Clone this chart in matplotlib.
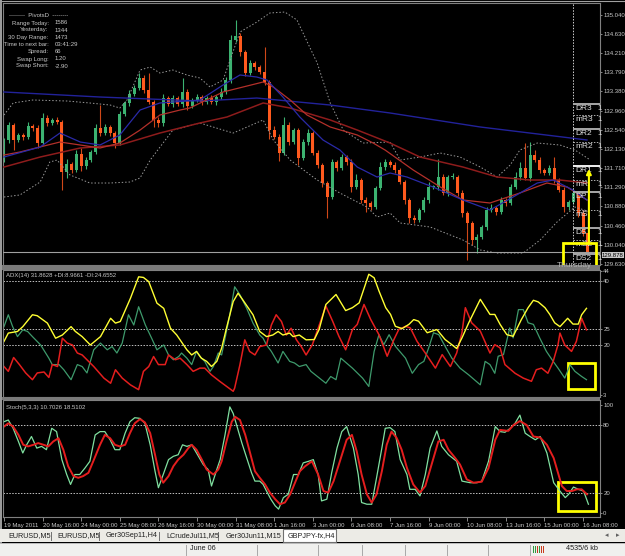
import matplotlib
matplotlib.use('Agg')
import matplotlib.pyplot as plt
import matplotlib.transforms as mtransforms
from matplotlib.patches import Rectangle
from matplotlib.lines import Line2D
from matplotlib import font_manager

W, H = 625, 556

# ---------------- data (GBPJPY H4) ----------------
first_open = 131.885
closes = [
    132.320, 132.645, 132.320, 132.428, 132.385, 132.624, 132.580, 132.254, 132.797, 132.689,
    132.754, 132.710, 131.625, 131.799, 131.668, 132.016, 131.755, 131.885, 132.059, 132.580,
    132.471, 132.602, 132.471, 132.254, 132.884, 133.123, 133.318, 133.448, 133.666, 133.405,
    133.145, 132.754, 132.689, 133.231, 133.101, 133.231, 133.101, 133.362, 133.058, 133.188,
    133.253, 133.145, 133.231, 133.145, 133.253, 133.362, 133.622, 134.491, 134.577, 134.230,
    133.774, 133.991, 133.904, 133.796, 133.579, 132.536, 132.385, 132.037, 132.645, 132.276,
    132.536, 131.929, 132.276, 132.471, 132.037, 131.777, 131.386, 131.082, 131.842, 131.712,
    131.950, 131.842, 131.299, 131.451, 131.017, 130.952, 130.865, 131.277, 131.733, 131.842,
    131.777, 131.668, 131.408, 131.017, 130.626, 130.583, 130.800, 131.017, 131.299, 131.299,
    131.516, 131.169, 131.516, 131.516, 131.169, 130.735, 130.518, 130.149, 130.214, 130.431,
    130.800, 130.843, 130.757, 131.017, 130.952, 131.299, 131.516, 131.712, 131.495, 131.994,
    131.885, 131.668, 131.603, 131.712, 131.451, 131.234, 130.865, 130.974, 131.169, 130.735,
    130.301, 129.878]
wick_up = [
    0.05, 0.06, 0.04, 0.05, 0.04, 0.08, 0.05, 0.06, 0.10, 0.06,
    0.05, 0.06, 0.04, 0.10, 0.05, 0.08, 0.12, 0.06, 0.05, 0.08,
    0.50, 0.06, 0.05, 0.04, 0.06, 0.05, 0.08, 0.06, 0.10, 0.06,
    0.36, 0.05, 0.06, 0.08, 0.05, 0.06, 0.04, 0.30, 0.06, 0.05,
    0.06, 0.05, 0.04, 0.06, 0.05, 0.08, 0.06, 0.10, 0.35, 0.06,
    0.05, 0.06, 0.05, 0.05, 0.54, 0.05, 0.08, 0.06, 0.18, 0.06,
    0.05, 0.04, 0.06, 0.08, 0.05, 0.06, 0.05, 0.04, 0.06, 0.05,
    0.06, 0.05, 0.06, 0.12, 0.05, 0.06, 0.04, 0.05, 0.10, 0.06,
    0.05, 0.06, 0.05, 0.04, 0.05, 0.06, 0.05, 0.06, 0.10, 0.05,
    0.40, 0.06, 0.05, 0.08, 0.05, 0.06, 0.05, 0.04, 0.06, 0.05,
    0.06, 0.08, 0.05, 0.06, 0.05, 0.06, 0.10, 0.12, 0.54, 0.28,
    0.10, 0.06, 0.05, 0.06, 0.24, 0.05, 0.06, 0.05, 0.06, 0.05,
    0.06, 0.05]
wick_dn = [
    0.05, 0.06, 0.22, 0.05, 0.06, 0.04, 0.06, 0.10, 0.05, 0.06,
    0.05, 0.04, 0.39, 0.12, 0.06, 0.05, 0.10, 0.06, 0.05, 0.04,
    0.06, 0.05, 0.06, 0.10, 0.05, 0.04, 0.06, 0.05, 0.04, 0.06,
    0.05, 0.15, 0.08, 0.06, 0.05, 0.06, 0.05, 0.06, 0.08, 0.05,
    0.04, 0.06, 0.05, 0.04, 0.06, 0.05, 0.04, 0.06, 0.05, 0.08,
    0.06, 0.05, 0.06, 0.05, 0.06, 0.20, 0.05, 0.18, 0.05, 0.06,
    0.04, 0.15, 0.05, 0.06, 0.05, 0.06, 0.08, 0.46, 0.05, 0.06,
    0.05, 0.06, 0.10, 0.05, 0.06, 0.20, 0.06, 0.05, 0.04, 0.06,
    0.05, 0.06, 0.05, 0.08, 0.10, 0.06, 0.05, 0.04, 0.06, 0.05,
    0.06, 0.05, 0.06, 0.05, 0.06, 0.08, 0.80, 0.10, 0.28, 0.05,
    0.06, 0.05, 0.06, 0.05, 0.06, 0.05, 0.04, 0.06, 0.05, 0.06,
    0.05, 0.06, 0.05, 0.04, 0.06, 0.05, 0.10, 0.06, 0.05, 0.08,
    0.06, 0.04]

# moving averages / bands, sampled at bar positions
ma_slow_bar = [0, 19.9, 40.6, 52.4, 67.6, 80.0, 98.7, 120.8]
ma_slow_val = [133.362, 133.253, 133.166, 133.231, 133.079, 132.906, 132.602, 132.320]
ma_fast_bar = [0, 7.5, 11.6, 15.8, 19.9, 24.0, 28.2, 32.3, 40.6, 45.4, 48.9, 52.4, 54.5, 57.8, 61.3,
               66.1, 69.6, 73.2, 77.3, 80.0, 83.5, 88.9, 95.1, 100.7, 105.5, 110.5, 113.8, 117.9, 120.8]
ma_fast_val = [131.950, 132.168, 132.471, 132.276, 132.211, 132.428, 132.971, 133.123, 133.188, 133.514,
               133.731, 133.687, 133.622, 133.253, 132.819, 132.320, 132.103, 131.733, 131.516, 131.603,
               131.516, 131.299, 131.017, 130.800, 131.082, 131.386, 131.451, 131.234, 131.017]
ma_red_a_bar = [0, 3.3, 11.6, 15.8, 19.9, 24.0, 28.2, 32.3, 36.5, 38.5, 45.4, 53.7, 55.8, 59.3, 62.8,
                67.6, 73.2, 76.5, 79.0, 84.8, 90.4, 95.1, 100.7, 106.9, 112.5, 116.7, 120.8]
ma_red_a_val = [131.994, 132.059, 132.276, 132.211, 132.146, 132.254, 132.536, 132.862, 132.971, 133.014,
                133.362, 133.579, 133.470, 133.188, 132.862, 132.602, 132.428, 132.254, 132.100, 131.668,
                131.300, 131.017, 130.952, 131.169, 131.386, 131.299, 131.017]
ma_red_b_bar = [0, 7.5, 15.8, 24.0, 32.3, 40.6, 46.2, 53.7, 59.3, 67.6, 73.2, 80.0, 86.2, 95.1, 102.2,
                109.0, 115.2, 120.8]
ma_red_b_val = [131.733, 131.950, 132.146, 132.211, 132.471, 132.689, 132.819, 133.123, 133.014, 132.754,
                132.536, 132.254, 131.950, 131.733, 131.516, 131.451, 131.451, 131.386]
band_up_bar = [0, 1.9, 6.0, 13.1, 17.8, 22.0, 24.0, 25.5, 28.2, 30.3, 32.3, 35.0, 37.9, 40.6, 42.7,
               45.4, 48.9, 52.4, 55.1, 58.2, 60.7, 64.9, 67.6, 70.3, 74.4, 80.0, 82.1, 86.2, 90.4,
               94.5, 98.7, 102.2, 104.9, 106.9, 110.5, 115.2, 118.3, 121.5]
band_up_val = [132.862, 133.123, 133.188, 133.166, 133.123, 133.079, 133.014, 133.188, 133.839, 133.904,
               133.774, 133.839, 133.731, 133.666, 133.470, 133.622, 134.664, 134.881, 135.077, 135.098,
               134.925, 133.991, 133.123, 132.536, 132.254, 132.276, 131.885, 131.950, 132.037, 131.950,
               131.733, 131.516, 131.777, 132.103, 132.254, 132.211, 132.103, 131.885]
band_dn_bar = [0, 3.3, 7.5, 9.5, 11.0, 13.7, 17.8, 22.0, 26.1, 28.2, 30.3, 35.0, 40.6, 45.4, 47.5,
               53.7, 55.8, 59.3, 64.9, 69.6, 75.2, 77.3, 80.0, 82.1, 88.3, 95.1, 98.7, 102.2, 107.6,
               111.1, 114.6, 118.3, 121.5]
band_dn_val = [131.082, 131.126, 131.408, 131.842, 131.885, 131.560, 131.386, 131.386, 131.408, 131.495,
               131.885, 132.536, 132.689, 132.536, 132.471, 132.754, 132.320, 131.885, 131.451, 131.169,
               130.865, 130.648, 130.735, 130.518, 130.431, 130.149, 129.932, 129.866, 129.866, 130.149,
               130.540, 130.865, 130.757]

price_ticks = [135.040, 134.630, 134.210, 133.790, 133.380, 132.960, 132.540, 132.130,
               131.710, 131.290, 130.880, 130.460, 130.040, 129.630]
bid_price = 129.878

pivot_names = ['DR3', 'mR3', 'DR2', 'mR2', 'DR1', 'mR', 'DP', 'mS', 'DS', 'mS2', 'DS2']
pivot_levels = [133.10, 132.86, 132.56, 132.28, 131.76, 131.45, 131.19, 130.80, 130.41, 130.15, 129.85]
day_start_bar = 118

info_keys = ['Range Today:', 'Yesterday:', '30 Day Range:', 'Time to next bar:', 'Spread:', 'Swap Long:', 'Swap Short:']
info_vals = ['1586', '1344', '1473', '03:41:29', '66', '1.20', '-2.90']

# ADX(14)
adx_bar = [0, 0.9, 2.8, 3.9, 5.9, 6.9, 9.0, 10.7, 12.1, 13.9, 14.8, 16.2, 17.9, 20.0, 22.1, 23.1, 24.1,
           26.2, 27.9, 28.9, 30.0, 31.7, 33.1, 34.5, 35.8, 37.9, 38.9, 39.9, 40.9, 42.0, 43.0, 44.1,
           45.1, 46.1, 47.5, 48.5, 49.5, 51.6, 53.0, 54.4, 55.7, 56.8, 57.8, 59.2, 59.9, 61.2, 62.6,
           64.3, 65.3, 66.7, 68.8, 70.8, 72.2, 73.6, 75.6, 76.7, 77.7, 79.1, 80.1, 81.1, 82.5, 83.9,
           84.9, 85.9, 87.7, 88.7, 89.7, 91.4, 92.8, 93.8, 94.9, 96.3, 98.7, 100.7, 101.7, 102.8,
           104.2, 105.5, 107.2, 108.6, 109.7, 110.7, 112.1, 113.1, 114.1, 115.2, 116.8, 117.9, 119.0,
           119.7, 120.7]
adx_val = [21.2, 23.8, 24.3, 25.8, 29.5, 29.2, 26.9, 22.2, 23.2, 25.8, 24.3, 22.7, 20.1, 22.7, 28.4,
           26.9, 27.4, 34.6, 41.3, 41.1, 39.8, 33.1, 31.5, 25.3, 23.2, 18.6, 17.0, 18.1, 16.0, 15.0,
           13.4, 15.0, 19.1, 25.3, 33.6, 36.2, 34.1, 29.5, 24.3, 22.7, 23.2, 24.3, 23.2, 23.8, 22.7,
           23.2, 21.7, 21.8, 24.9, 32.7, 35.8, 30.8, 31.7, 33.2, 42.1, 41.0, 36.9, 31.7, 29.6, 25.9,
           25.2, 26.5, 28.0, 27.5, 23.9, 24.4, 24.9, 21.8, 20.2, 19.0, 22.3, 27.0, 34.3, 29.6, 29.6,
           26.5, 23.3, 22.8, 28.0, 31.7, 34.0, 33.5, 31.7, 29.6, 27.0, 25.8, 28.4, 26.6, 26.6, 29.5, 31.5]
pdi_bar = [0, 0.9, 1.8, 2.8, 3.9, 4.9, 5.9, 7.6, 9.3, 10.0, 11.4, 12.4, 13.9, 15.2, 16.2, 17.2, 18.6,
           20.0, 21.4, 22.4, 23.4, 24.5, 25.8, 26.9, 27.9, 29.3, 30.6, 31.7, 33.1, 34.1, 35.1, 36.2,
           36.8, 37.9, 38.9, 39.9, 40.6, 41.6, 42.7, 43.4, 44.4, 45.1, 46.1, 46.8, 47.8, 48.9, 50.3,
           51.6, 53.0, 53.7, 54.4, 55.4, 56.8, 57.8, 59.2, 60.2, 61.2, 62.6, 63.6, 66.7, 67.7, 68.8,
           69.8, 72.2, 74.3, 75.6, 76.7, 77.7, 78.7, 79.8, 81.1, 83.2, 84.6, 85.9, 87.0, 88.0, 89.0,
           90.1, 91.4, 92.8, 94.5, 96.3, 98.7, 99.7, 100.7, 101.7, 102.4, 103.5, 104.8, 105.5, 106.6,
           107.6, 108.6, 109.7, 111.0, 112.4, 113.8, 114.8, 116.2, 117.3, 118.3, 119.7, 120.7]
pdi_val = [25.8, 29.5, 25.8, 22.7, 24.8, 24.3, 22.7, 20.1, 16.0, 14.0, 14.0, 12.4, 9.3, 14.0, 13.4,
           11.4, 18.6, 20.7, 18.6, 19.6, 17.6, 20.7, 29.5, 26.3, 32.0, 26.3, 22.2, 18.6, 20.1, 17.0,
           15.5, 16.5, 17.6, 16.0, 14.0, 18.1, 16.5, 15.0, 11.9, 13.4, 17.6, 17.0, 24.3, 29.5, 38.2,
           35.7, 31.5, 26.9, 23.2, 22.2, 20.1, 18.1, 14.5, 18.1, 15.0, 14.5, 13.4, 14.0, 11.9, 8.2,
           10.3, 9.3, 16.0, 12.9, 9.8, 7.2, 18.1, 23.3, 20.2, 23.3, 19.7, 16.0, 11.3, 14.0, 15.0, 19.2,
           23.9, 23.3, 19.7, 16.0, 12.9, 10.8, 7.7, 15.0, 14.0, 11.3, 16.6, 17.1, 25.4, 22.3, 31.1,
           31.1, 27.0, 26.5, 22.3, 18.1, 15.0, 12.9, 9.8, 13.9, 11.9, 10.3, 9.3]
mdi_bar = [0, 0.9, 2.0, 3.2, 4.5, 5.9, 6.9, 8.3, 9.3, 10.0, 11.1, 12.1, 13.1, 14.2, 15.2, 16.2, 17.2,
           18.6, 20.7, 22.1, 23.1, 24.5, 26.2, 27.9, 28.9, 30.0, 31.0, 32.0, 33.4, 34.1, 35.5, 36.5,
           37.9, 39.2, 40.6, 41.6, 43.0, 44.7, 47.5, 47.8, 48.9, 49.9, 50.9, 52.0, 53.0, 54.4, 55.4,
           56.4, 57.5, 58.5, 59.5, 60.6, 61.6, 62.6, 63.9, 65.0, 66.7, 68.1, 69.4, 70.8, 72.2, 73.2,
           74.6, 76.0, 77.7, 79.4, 80.8, 81.8, 83.2, 84.2, 85.6, 87.3, 89.4, 90.8, 92.5, 93.8, 94.9,
           95.6, 96.9, 98.7, 100.7, 101.7, 102.8, 103.8, 105.9, 107.6, 109.3, 110.3, 111.4, 112.7,
           113.8, 114.8, 115.2, 116.2, 117.6, 118.6, 119.7, 120.7]
mdi_val = [13.4, 11.9, 16.2, 14.0, 11.4, 9.3, 11.4, 11.7, 10.0, 14.0, 13.4, 22.2, 20.7, 20.1, 17.6,
           17.0, 15.5, 13.4, 9.8, 8.2, 12.4, 9.8, 7.7, 6.2, 11.9, 13.4, 16.5, 14.0, 14.0, 17.0, 15.5,
           16.0, 14.0, 11.9, 12.9, 12.9, 10.8, 8.8, 5.7, 6.7, 14.0, 21.7, 18.1, 17.0, 19.6, 20.1, 26.3,
           29.5, 27.4, 23.2, 25.3, 21.7, 19.6, 17.0, 20.2, 24.9, 32.2, 27.5, 22.8, 18.6, 24.9, 26.5,
           32.7, 28.0, 23.3, 16.6, 21.8, 24.9, 25.9, 25.4, 21.2, 17.6, 12.9, 17.1, 13.4, 17.6, 23.9,
           31.7, 27.0, 24.4, 17.6, 20.2, 19.2, 14.0, 11.3, 9.8, 8.8, 12.4, 12.9, 11.3, 15.0, 20.2, 23.8,
           20.1, 18.1, 21.2, 28.4, 24.8]

# Stochastic(5,3,3)
k_bar = [0, 0.9, 1.9, 3.0, 3.9, 4.7, 5.7, 6.8, 7.8, 8.8, 9.9, 10.9, 12.0, 13.0, 13.8, 14.7, 15.7, 16.8,
         17.8, 18.9, 19.9, 20.9, 22.0, 23.0, 24.0, 25.1, 26.1, 27.1, 28.2, 29.2, 30.3, 31.3, 32.0, 33.0,
         34.1, 35.1, 36.1, 37.0, 37.9, 38.9, 39.9, 41.3, 42.3, 43.0, 44.1, 44.8, 45.8, 46.8, 47.5, 48.2,
         49.3, 50.3, 51.3, 52.0, 53.0, 53.7, 54.4, 55.3, 56.2, 56.9, 57.9, 58.9, 60.0, 61.0, 62.0, 63.1,
         64.1, 65.1, 65.8, 66.9, 67.9, 69.0, 70.0, 71.0, 72.4, 73.4, 74.1, 75.2, 76.2, 77.2, 78.3, 79.0,
         80.0, 81.0, 82.1, 83.5, 84.1, 85.2, 86.2, 87.3, 88.3, 89.7, 90.7, 92.1, 93.8, 94.9, 96.6, 98.0,
         99.0, 100.4, 101.8, 102.8, 103.8, 104.9, 105.9, 106.9, 108.0, 109.0, 110.1, 111.1, 112.5,
         113.9, 115.2, 116.3, 117.0, 118.0, 119.0, 120.1, 121.1]
k_val = [82.9, 84.4, 77.1, 65.5, 55.4, 62.6, 69.9, 59.7, 61.2, 58.3, 77.1, 74.2, 49.6, 36.5, 27.8, 36.5,
         36.5, 42.3, 48.1, 71.3, 74.2, 74.2, 67.0, 58.3, 58.3, 72.8, 82.9, 86.4, 85.8, 81.5, 62.6, 39.4,
         24.9, 36.5, 49.6, 52.5, 53.9, 62.6, 61.2, 62.6, 55.4, 45.2, 40.9, 26.4, 40.9, 49.6, 71.3, 95.9,
         90.1, 80.0, 64.1, 51.0, 38.0, 30.7, 30.7, 27.8, 22.0, 14.8, 9.0, 6.1, 16.2, 19.1, 36.5, 36.5,
         46.7, 48.1, 49.6, 36.5, 13.3, 14.8, 38.0, 59.7, 74.2, 78.6, 59.7, 36.5, 11.9, 10.4, 10.4, 33.6,
         59.7, 77.1, 77.7, 74.2, 49.6, 36.5, 23.5, 23.5, 17.7, 36.5, 59.7, 74.8, 61.2, 53.9, 48.1, 30.7,
         29.3, 29.3, 30.7, 48.1, 78.6, 74.2, 73.6, 77.1, 81.5, 88.7, 72.8, 69.9, 67.0, 69.9, 55.4, 29.3,
         22.0, 16.2, 19.1, 25.5, 23.5, 22.0, 10.4]
d_bar = [0, 0.9, 1.9, 3.0, 4.0, 5.0, 6.1, 7.1, 8.2, 9.2, 10.2, 11.3, 12.3, 13.3, 14.4, 15.4, 16.4, 17.5,
         18.5, 19.9, 20.9, 22.0, 23.0, 24.0, 25.1, 26.1, 27.1, 28.2, 29.2, 30.3, 31.3, 32.2, 33.0, 34.1,
         35.1, 36.1, 37.2, 38.2, 38.9, 39.9, 41.0, 42.0, 43.4, 44.4, 45.1, 46.1, 47.2, 47.9, 48.9, 50.0,
         51.0, 52.0, 53.0, 54.1, 55.1, 56.2, 57.2, 58.2, 59.3, 60.3, 61.3, 62.4, 63.8, 65.1, 66.2, 67.2,
         68.3, 69.6, 71.0, 72.1, 73.1, 74.1, 75.2, 76.2, 77.2, 78.3, 79.3, 80.3, 81.4, 82.4, 83.5, 84.8,
         86.2, 87.3, 88.6, 90.0, 91.1, 92.1, 93.5, 94.5, 95.9, 97.3, 99.0, 100.4, 101.8, 102.8, 104.5,
         105.6, 106.9, 108.3, 109.7, 111.1, 112.5, 113.9, 114.9, 115.6, 116.6, 117.7, 118.7, 119.7, 120.8]
d_val = [78.6, 81.5, 78.6, 71.3, 62.6, 61.2, 62.6, 64.1, 62.6, 61.2, 65.5, 68.4, 58.3, 43.8, 35.1, 33.6,
         35.1, 38.0, 48.1, 62.6, 71.3, 68.4, 62.6, 61.2, 62.6, 72.8, 81.5, 85.2, 82.3, 72.8, 53.9, 36.5,
         29.3, 35.1, 43.8, 49.6, 53.9, 59.7, 62.6, 58.3, 49.6, 40.9, 36.5, 40.9, 48.1, 65.5, 82.9, 87.2,
         84.4, 71.3, 55.4, 39.4, 33.6, 27.8, 20.6, 14.8, 10.4, 11.9, 19.1, 29.3, 39.4, 43.8, 48.1, 36.5,
         22.0, 20.6, 30.7, 48.1, 67.0, 71.3, 56.8, 36.5, 19.1, 11.9, 19.1, 39.4, 62.6, 74.2, 68.4, 58.3,
         42.3, 27.8, 20.6, 26.4, 45.2, 65.5, 67.0, 58.3, 51.0, 45.2, 32.2, 29.3, 30.2, 42.3, 67.0, 75.7,
         74.8, 80.0, 83.5, 80.0, 69.9, 69.0, 62.6, 51.0, 36.5, 26.4, 22.0, 22.0, 23.5, 23.5, 19.1]

date_labels = ['19 May 2011', '20 May 16:00', '24 May 00:00', '25 May 08:00', '26 May 16:00',
               '30 May 00:00', '31 May 08:00', '1 Jun 16:00', '3 Jun 00:00', '6 Jun 08:00',
               '7 Jun 16:00', '9 Jun 00:00', '10 Jun 08:00', '13 Jun 16:00', '15 Jun 00:00', '16 Jun 08:00']
date_label_bars = [0, 8, 16, 24, 32, 40, 48, 56, 64, 72, 80, 88, 96, 104, 112, 120]

tab_names = ['EURUSD,M5', 'EURUSD,M5', 'Ger30Sep11,H4', 'LCrudeJul11,M5', 'Ger30Jun11,M15', 'GBPJPY-fx,H4']

# ---------------- helpers ----------------
def fig_box(x0, y0, x1, y1):
    # pixel box, origin top-left -> figure fraction rect
    return [x0 / W, 1 - y1 / H, (x1 - x0) / W, (y1 - y0) / H]

def fx(x):
    return x / W

def fy(y):
    return 1 - y / H

names = set(f.name for f in font_manager.fontManager.ttflist)
if 'Liberation Sans Narrow' in names:
    small_font, small_size = 'Liberation Sans Narrow', 5.0
else:
    small_font, small_size = 'Liberation Sans', 4.3
ui_font = 'Liberation Sans'
txt_col = '#c8c8c8'
bull_col = '#3cb371'
bear_col = '#ff5a1e'
frame_col = '#808080'

fig = plt.figure(figsize=(W / 100, H / 100), dpi=100, facecolor='black')

XMIN, XMAX = -0.2, 123.5

def style_axes(ax):
    ax.set_facecolor('black')
    for s in ax.spines.values():
        s.set_color(frame_col)
        s.set_linewidth(0.8)
    ax.set_xlim(XMIN, XMAX)
    ax.yaxis.tick_right()
    ax.tick_params(axis='y', colors='#a0a0a0', length=1.5, width=0.6, pad=0.8,
                   labelsize=small_size, labelcolor=txt_col)
    for lab in ax.get_yticklabels():
        lab.set_family(small_font)

# ---------------- main price chart ----------------
ax = fig.add_axes(fig_box(3, 3, 600, 265))
ax.set_ylim(129.606, 135.294)
ax.set_xticks([])
ax.set_yticks(price_ticks)
ax.set_yticklabels(['%.3f' % p for p in price_ticks])
style_axes(ax)

opens = [first_open] + closes[:-1]
bars = list(range(len(closes)))
bot, hgt, body_c, wick_c, lows, highs = [], [], [], [], [], []
for i in bars:
    o, c = opens[i], closes[i]
    top, btm = max(o, c), min(o, c)
    bot.append(btm)
    hgt.append(max(top - btm, 0.02))
    body_c.append(bull_col if c >= o else bear_col)
    wick_c.append(bull_col if c >= o else '#d04818')
    highs.append(top + wick_up[i])
    lows.append(btm - wick_dn[i])
ax.vlines(bars, lows, highs, colors=wick_c, lw=0.8, zorder=2)
ax.bar(bars, hgt, bottom=bot, width=0.62, color=body_c, lw=0, zorder=2)

dots = (0, (1.5, 2.0))
ax.plot(band_up_bar, band_up_val, color='#9a9a9a', lw=0.7, ls=dots, zorder=3)
ax.plot(band_dn_bar, band_dn_val, color='#9a9a9a', lw=0.7, ls=dots, zorder=3)
ax.plot(ma_slow_bar, ma_slow_val, color='#22229a', lw=1.0, zorder=3)
ax.plot(ma_red_b_bar, ma_red_b_val, color='#8e1c1c', lw=1.1, zorder=3)
ax.plot(ma_red_a_bar, ma_red_a_val, color='#b4302a', lw=0.9, zorder=3)
ax.plot(ma_fast_bar, ma_fast_val, color='#2a2aa8', lw=0.9, zorder=3)

# bid line and day separator
ax.axhline(bid_price, color='#a0a0a0', lw=0.8, zorder=4)
ax.axvline(day_start_bar, color='#d0d0d0', lw=0.7, ls=(0, (1.5, 1.5)), zorder=4)

# daily pivots
lab_tr = mtransforms.offset_copy(ax.transData, fig=fig, x=1.5, y=-1.2, units='dots')
for name, lvl in zip(pivot_names, pivot_levels):
    if name == 'DR1':
        ax.hlines(lvl, day_start_bar, XMAX, color='#f0f0f0', lw=1.4, zorder=4)
    elif name.startswith('m'):
        ax.hlines(lvl, day_start_bar, XMAX, color='#b0b0b0', lw=0.7, ls=(0, (1.5, 1.5)), zorder=4)
    else:
        ax.hlines(lvl, day_start_bar, XMAX, color='#a8a8a8', lw=1.4, zorder=4)
    ax.text(day_start_bar, lvl, name, transform=lab_tr, color='#e0e0e0', fontsize=6,
            family=ui_font, ha='left', va='top', zorder=5)
    ax.text(122.6, lvl, '1', transform=lab_tr, color='#e0e0e0', fontsize=5.5,
            family=ui_font, ha='left', va='top', zorder=5)

# yellow marks
ax.add_patch(Rectangle((115.9, 129.54), 6.8, 0.543, fill=False, ec='#ffff00', lw=2.0,
                       clip_on=False, zorder=6))
ax.annotate('', xy=(121.2, 131.69), xytext=(121.2, 130.083),
            arrowprops=dict(arrowstyle='-|>', color='#ffff00', lw=1.5, mutation_scale=7,
                            shrinkA=0, shrinkB=0), zorder=6)

# bid price box on the axis
fig.text(fx(602), fy(255.2), '%.3f' % bid_price, color='black', fontsize=small_size,
         family=small_font, ha='left', va='center',
         bbox=dict(boxstyle='square,pad=0.05', fc='#c8c8c8', ec='none'))

# PivotsD info block
fig.text(fx(39), fy(15.7), '--------  PivotsD  --------', color=txt_col, fontsize=small_size,
         family=small_font, ha='center', va='center')
info_y = [23, 30, 37.3, 44.3, 51.7, 59, 66]
for k, v, yy in zip(info_keys, info_vals, info_y):
    fig.text(fx(48.5), fy(yy), k, color=txt_col, fontsize=small_size, family=small_font,
             ha='right', va='center')
    fig.text(fx(55), fy(yy), v, color=txt_col, fontsize=small_size, family=small_font,
             ha='left', va='center')
fig.text(fx(557), fy(265.5), 'Thursday', color='#b0b0b0', fontsize=6, family=ui_font,
         ha='left', va='center')

# ---------------- ADX panel ----------------
ax2 = fig.add_axes(fig_box(3, 270, 600, 397))
ax2.set_ylim(3.92, 43.42)
ax2.set_xticks([])
ax2.set_yticks([43.2, 40, 25, 20, 4.6])
ax2.set_yticklabels(['44', '40', '25', '20', '3'])
style_axes(ax2)
for lvl in [40, 25, 20]:
    ax2.axhline(lvl, color='#c0c0c0', lw=0.7, ls=(0, (1.5, 1.5)))
ax2.plot(pdi_bar, pdi_val, color='#3e9a6c', lw=0.9)
ax2.plot(mdi_bar, mdi_val, color='#e41e1e', lw=1.1)
ax2.plot(adx_bar, adx_val, color='#ffff33', lw=1.0)
ax2.add_patch(Rectangle((116.9, 6.4), 5.6, 8.1, fill=False, ec='#ffff00', lw=2.0, clip_on=False))
fig.text(fx(6), fy(275), 'ADX(14) 31.8628 +DI:8.9661 -DI:24.6552', color=txt_col,
         fontsize=small_size, family=small_font, ha='left', va='center')

# ---------------- Stochastic panel ----------------
ax3 = fig.add_axes(fig_box(3, 400, 600, 516.5))
ax3.set_ylim(-0.38, 101.96)
ax3.set_yticks([97.6, 80, 20, 2.7])
ax3.set_yticklabels(['100', '80', '20', '0'])
style_axes(ax3)
ax3.set_xticks(date_label_bars)
ax3.set_xticklabels(date_labels)
ax3.tick_params(axis='x', colors='#a0a0a0', length=3, width=0.6, pad=1.5,
                labelsize=small_size, labelcolor=txt_col)
for lab in ax3.get_xticklabels():
    lab.set_ha('left')
    lab.set_family(small_font)
for lvl in [80, 20]:
    ax3.axhline(lvl, color='#c0c0c0', lw=0.7, ls=(0, (1.5, 1.5)))
ax3.plot(k_bar, k_val, color='#80e0a0', lw=0.9)
ax3.plot(d_bar, d_val, color='#e41e1e', lw=1.4)
ax3.add_patch(Rectangle((114.8, 4.4), 7.9, 25.5, fill=False, ec='#ffff00', lw=2.0, clip_on=False))
fig.text(fx(6), fy(407), 'Stoch(5,3,3) 10.7026 18.5102', color=txt_col,
         fontsize=small_size, family=small_font, ha='left', va='center')

# ---------------- window frame pieces ----------------
for (y0, y1) in [(265, 269.5), (397, 400)]:
    fig.patches.append(Rectangle((0, fy(y1)), fx(600), (y1 - y0) / H, transform=fig.transFigure,
                                 fc='#7a7a7a', ec='none'))
fig.patches.append(Rectangle((0, 0), fx(2), 1, transform=fig.transFigure, fc='#9a9a9a', ec='none'))
fig.lines.append(Line2D([0, 1], [fy(0.5), fy(0.5)], transform=fig.transFigure, color='#a0a0a0', lw=0.8))

# tab bar
fig.patches.append(Rectangle((0, fy(542)), 1, 13 / H, transform=fig.transFigure,
                             fc='#ecebe6', ec='none'))
fig.patches.append(Rectangle((fx(283), fy(542)), fx(336) - fx(283), 13 / H, transform=fig.transFigure,
                             fc='white', ec='#707070', lw=0.8))
tab_x = [8, 57, 106, 166, 226, 288]
for name, x in zip(tab_names, tab_x):
    fig.text(fx(x), fy(535.5), name, color='#202020', fontsize=5.2, family=ui_font,
             ha='left', va='center')
for x in [51, 99, 159, 218]:
    fig.lines.append(Line2D([fx(x), fx(x)], [fy(532), fy(540)], transform=fig.transFigure,
                            color='#707070', lw=0.7))
fig.text(fx(607), fy(535.5), '\u25c2', color='#606060', fontsize=5, family='DejaVu Sans', ha='center', va='center')
fig.text(fx(618), fy(535.5), '\u25b8', color='#606060', fontsize=5, family='DejaVu Sans', ha='center', va='center')

# status bar
fig.patches.append(Rectangle((0, 0), 1, 13.5 / H, transform=fig.transFigure, fc='#f0f0ee', ec='none'))
fig.lines.append(Line2D([0, 1], [fy(542.5), fy(542.5)], transform=fig.transFigure, color='#b0b0b0', lw=0.6))
for x in [186, 257, 318, 362, 405, 447, 488, 530]:
    fig.lines.append(Line2D([fx(x), fx(x)], [fy(545), fy(555)], transform=fig.transFigure,
                            color='#a8a8a8', lw=0.7))
fig.text(fx(190), fy(549), 'June 06', color='#202020', fontsize=5.2, family=ui_font, ha='left', va='center')
fig.text(fx(566), fy(549), '4535/6 kb', color='#202020', fontsize=5.2, family=ui_font, ha='left', va='center')
icon_cols = ['#2e9a3e', '#2e9a3e', '#c83c1e', '#2e9a3e', '#c83c1e', '#c83c1e']
for j, col in enumerate(icon_cols):
    fig.patches.append(Rectangle((fx(533 + 2 * j), fy(553)), 1.2 / W, 7 / H, transform=fig.transFigure,
                                 fc=col, ec='none'))

fig.savefig('out.png', dpi=100, facecolor=fig.get_facecolor())
